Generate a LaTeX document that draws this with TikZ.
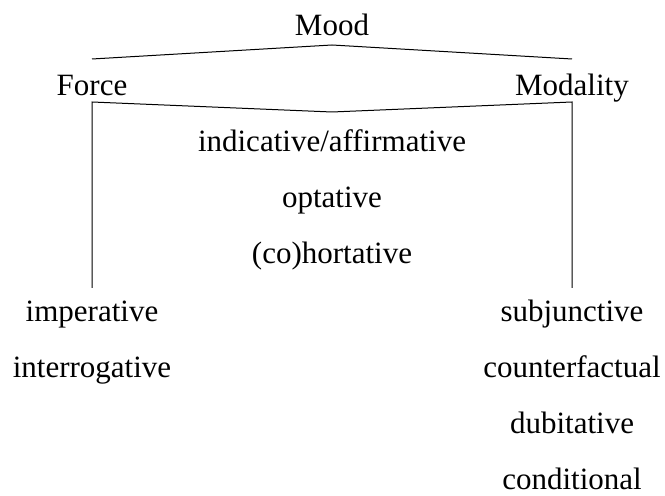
\documentclass[tikz,border=0pt]{standalone}
\usepackage{fontspec}
\setmainfont{Liberation Serif}
\usepackage{tikz}

\begin{document}
\begin{tikzpicture} [x=0.5pt, y=-0.5pt, every node/.style={font=\fontsize{15.5}{18}\selectfont, inner sep=0pt, anchor=base}, branch/.style={draw=black, line width=0.5pt}]
		\useasboundingbox (0,0) rectangle (665,496);
		\node (Mood) at (332,36) {Mood};
		\node (Force) at (92,96) {Force};
		\node (Modality) at (572,96) {Modality};
		% fork points
		\coordinate (T-l) at (92,59);
		\coordinate (T-m) at (332,45);
		\coordinate (T-r) at (572,59);
		\coordinate (B-l) at (92,102);
		\coordinate (B-m) at (332,112);
		\coordinate (B-r) at (572,102);
		\coordinate (E-l) at (92,288);
		\coordinate (E-r) at (572,288);
		\path[branch] (T-l) -- (T-m) -- (T-r);
		\path[branch] (E-l) -- (B-l) -- (B-m) -- (B-r) -- (E-r);
		\foreach \t [count=\i] in {indicative/affirmative,optative,(co)hortative}{%
			\node (Mid-\i) at (332,{152+56*(\i-1)}) {\t};
		}
		\foreach \t [count=\i] in {imperative,interrogative}{%
			\node (Frc-\i) at (92,{322+56*(\i-1)}) {\t};
		}
		\foreach \t [count=\i] in {subjunctive,counterfactual,dubitative,conditional}{%
			\node (Mod-\i) at (572,{322+56*(\i-1)}) {\t};
		}
	\end{tikzpicture}
\end{document}
